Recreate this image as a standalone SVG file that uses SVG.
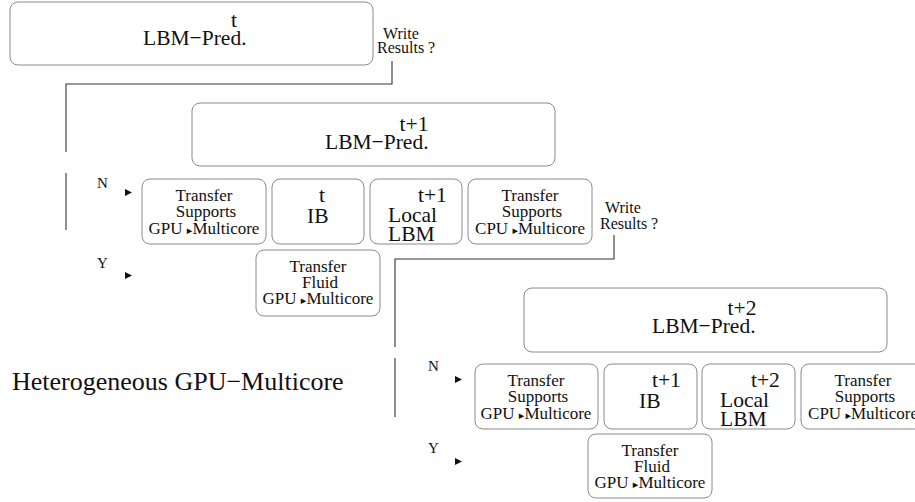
<svg xmlns="http://www.w3.org/2000/svg" width="915" height="502" viewBox="0 0 915 502">
<style>
.box{fill:#fff;stroke:#8a8a8a;stroke-width:1}
.ln{fill:none;stroke:#333;stroke-width:1.1}
.t{font-family:"Liberation Serif","Times New Roman",serif;fill:#111}
.big{font-size:21.5px}
.sm{font-size:17px;text-anchor:middle}
.q{font-size:16px}
.ny{font-size:15px}
.head{fill:#111}
.ar{font-family:"DejaVu Sans",sans-serif;font-size:11px}
</style>
<rect width="915" height="502" fill="#fff"/>
<g id="connectors">
<path class="ln" d="M392,61 V84 H66 V152"/>
<path class="ln" d="M66,173 V230"/>
<path class="ln" d="M614,235 V259 H395 V347"/>
<path class="ln" d="M395,358 V417"/>
<polygon class="head" points="125,189 132,192.5 125,196"/>
<polygon class="head" points="125,272 132,275.5 125,279"/>
<polygon class="head" points="455,376 462,379.5 455,383"/>
<polygon class="head" points="455,458 462,461.5 455,465"/>
</g>
<g id="pred_t">
<rect class="box" x="10" y="2" width="363" height="63" rx="8"/>
<text class="t big" x="234" y="27" text-anchor="middle">t</text>
<text class="t big" x="143" y="45">LBM−Pred.</text>
</g>
<g id="write1">
<text class="t q" x="383" y="39">Write</text>
<text class="t q" x="377" y="53">Results ?</text>
</g>
<g id="pred_t1">
<rect class="box" x="192" y="103" width="363" height="63" rx="8"/>
<text class="t big" x="414" y="131" text-anchor="middle">t+1</text>
<text class="t big" x="325" y="149">LBM−Pred.</text>
</g>
<g id="labels1">
<text class="t ny" x="97" y="188">N</text>
<text class="t ny" x="97" y="268">Y</text>
</g>
<g id="ts1">
<rect class="box" x="142" y="179" width="124" height="65" rx="8"/>
<text class="t sm" x="204" y="201">Transfer</text>
<text class="t sm" x="206" y="217">Supports</text>
<text class="t sm" x="204" y="234">GPU <tspan class="ar">▸</tspan>Multicore</text>
</g>
<g id="ib1">
<rect class="box" x="272" y="179" width="92" height="65" rx="8"/>
<text class="t big" x="319" y="202">t</text>
<text class="t big" x="307" y="223">IB</text>
</g>
<g id="local1">
<rect class="box" x="370" y="179" width="92" height="65" rx="8"/>
<text class="t big" x="418" y="202">t+1</text>
<text class="t big" x="388" y="222">Local</text>
<text class="t big" x="388" y="241">LBM</text>
</g>
<g id="tsc1">
<rect class="box" x="468" y="179" width="124" height="65" rx="8"/>
<text class="t sm" x="530" y="201">Transfer</text>
<text class="t sm" x="532" y="217">Supports</text>
<text class="t sm" x="530" y="234">CPU <tspan class="ar">▸</tspan>Multicore</text>
</g>
<g id="write2">
<text class="t q" x="605" y="213">Write</text>
<text class="t q" x="600" y="229">Results ?</text>
</g>
<g id="tf1">
<rect class="box" x="256" y="250" width="124" height="66" rx="8"/>
<text class="t sm" x="318" y="272">Transfer</text>
<text class="t sm" x="320" y="288">Fluid</text>
<text class="t sm" x="318" y="304">GPU <tspan class="ar">▸</tspan>Multicore</text>
</g>
<g id="title">
<text class="t" x="12" y="390" font-size="26">Heterogeneous GPU−Multicore</text>
</g>
<g id="pred_t2">
<rect class="box" x="524" y="288" width="363" height="64" rx="8"/>
<text class="t big" x="742" y="315" text-anchor="middle">t+2</text>
<text class="t big" x="652" y="333">LBM−Pred.</text>
</g>
<g id="labels2">
<text class="t ny" x="428" y="371">N</text>
<text class="t ny" x="428" y="453">Y</text>
</g>
<g id="ts2">
<rect class="box" x="475" y="364" width="123" height="65" rx="8"/>
<text class="t sm" x="536" y="386">Transfer</text>
<text class="t sm" x="538" y="402">Supports</text>
<text class="t sm" x="536" y="419">GPU <tspan class="ar">▸</tspan>Multicore</text>
</g>
<g id="ib2">
<rect class="box" x="604" y="364" width="93" height="65" rx="8"/>
<text class="t big" x="652" y="387">t+1</text>
<text class="t big" x="639" y="408">IB</text>
</g>
<g id="local2">
<rect class="box" x="702" y="364" width="93" height="65" rx="8"/>
<text class="t big" x="751" y="387">t+2</text>
<text class="t big" x="720" y="407">Local</text>
<text class="t big" x="720" y="426">LBM</text>
</g>
<g id="tsc2">
<rect class="box" x="801" y="364" width="124" height="65" rx="8"/>
<text class="t sm" x="863" y="386">Transfer</text>
<text class="t sm" x="865" y="402">Supports</text>
<text class="t sm" x="863" y="419">CPU <tspan class="ar">▸</tspan>Multicore</text>
</g>
<g id="tf2">
<rect class="box" x="588" y="434" width="124" height="64" rx="8"/>
<text class="t sm" x="650" y="456">Transfer</text>
<text class="t sm" x="652" y="472">Fluid</text>
<text class="t sm" x="650" y="488">GPU <tspan class="ar">▸</tspan>Multicore</text>
</g>
</svg>
